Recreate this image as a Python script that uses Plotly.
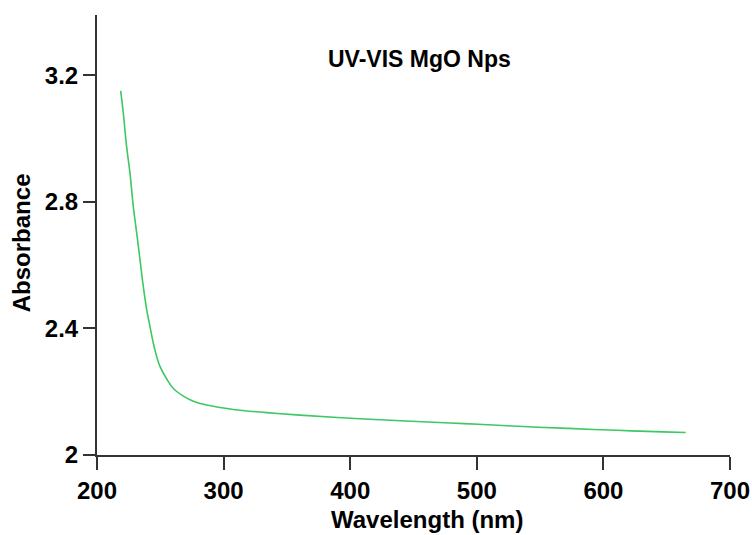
import plotly.graph_objects as go

wavelength = [218.7, 220.8, 223.4, 226.1, 228.7, 231.4, 234.0, 236.6, 239.3, 241.9,
              244.5, 247.2, 249.8, 255.1, 260.3, 268.2, 276.1, 286.6, 307.7, 334.0,
              360.3, 400.0, 440.0, 478.8, 501.0, 536.5, 572.0, 610.7, 647.0, 665.0]
absorbance = [3.150, 3.079, 2.974, 2.889, 2.784, 2.700, 2.616, 2.531, 2.458, 2.405,
              2.353, 2.310, 2.279, 2.240, 2.210, 2.186, 2.170, 2.158, 2.144, 2.134,
              2.126, 2.116, 2.108, 2.101, 2.097, 2.090, 2.084, 2.078, 2.073, 2.071]

x_ticks = [200, 300, 400, 500, 600, 700]
y_ticks = [2, 2.4, 2.8, 3.2]
y_tick_labels = ["2", "2.4", "2.8", "3.2"]

FONT = "Liberation Sans"

fig = go.Figure()
fig.add_trace(go.Scatter(
    x=wavelength, y=absorbance, mode="lines",
    line=dict(color="rgb(60,200,100)", width=1.6, shape="spline", smoothing=1.0),
    showlegend=False,
))

axis_common = dict(
    showgrid=False, zeroline=False, showline=True, automargin=False,
    linecolor="#333333", linewidth=2,
    ticks="outside", tickcolor="#333333", tickwidth=2,
    tickfont=dict(family=FONT, size=24, color="black", weight="bold"),
)

fig.update_xaxes(range=[200, 700], tickvals=x_ticks, ticklen=13, **axis_common)
fig.update_yaxes(range=[2, 3.39], tickvals=y_ticks, ticktext=y_tick_labels,
                 ticklen=12, **axis_common)

fig.update_layout(
    width=752, height=535,
    margin=dict(l=97, r=22, t=15, b=80, autoexpand=False),
    paper_bgcolor="white", plot_bgcolor="white",
    annotations=[
        dict(text="UV-VIS MgO Nps", xref="paper", yref="paper", x=0.509, y=0.90,
             xanchor="center", yanchor="middle", showarrow=False,
             font=dict(family=FONT, size=23, color="black", weight="bold")),
        dict(text="Absorbance", xref="paper", yref="paper", x=-0.118, y=0.482,
             xanchor="center", yanchor="middle", textangle=-90, showarrow=False,
             font=dict(family=FONT, size=24, color="black", weight="bold")),
        dict(text="Wavelength (nm)", xref="paper", yref="paper", x=0.521, y=-0.182,
             xanchor="center", yanchor="bottom", showarrow=False,
             font=dict(family=FONT, size=24, color="black", weight="bold")),
    ],
)

# remove the browser's default body margin so the figure fills the window exactly
fig.write_html("out.html",
               config={"displayModeBar": False},
               post_script="document.body.style.margin='0';document.body.style.overflow='hidden';")
